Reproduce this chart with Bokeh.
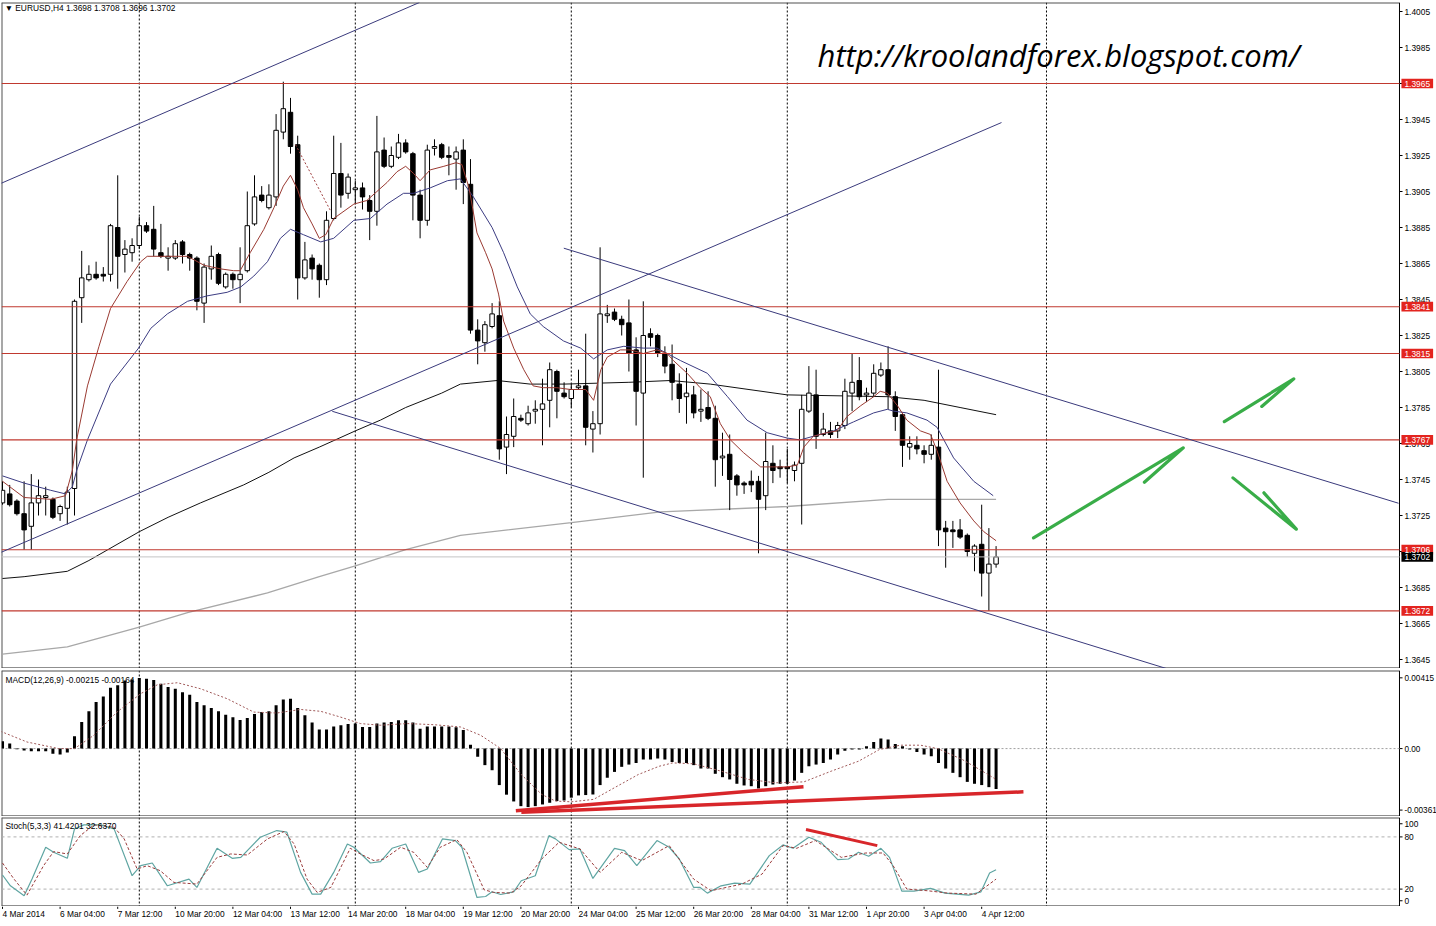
from bokeh.plotting import figure
from bokeh.layouts import column
from bokeh.models import Span, Label, Range1d, ColumnDataSource
from bokeh.embed import file_html
from bokeh.resources import INLINE
from bokeh.core.properties import value

FONT = "Liberation Sans"

# ---------------- price data (EURUSD H4, bar 0 = 4 Mar 2014 20:00) ----------------
bar_idx = list(range(139))
opens = [1.3732, 1.3737, 1.3733, 1.3726, 1.3719, 1.3732, 1.3735, 1.3734, 1.3726, 1.3729,
 1.3740, 1.3846, 1.3856, 1.3859, 1.3859, 1.3859, 1.3885, 1.3870, 1.3871, 1.3875,
 1.3886, 1.3884, 1.3871, 1.3868, 1.3868, 1.3877, 1.3870, 1.3868, 1.3843, 1.3862,
 1.3870, 1.3852, 1.3859, 1.3856, 1.3861, 1.3887, 1.3903, 1.3896, 1.3902, 1.3938,
 1.3949, 1.3931, 1.3857, 1.3868, 1.3864, 1.3856, 1.3890, 1.3915, 1.3904, 1.3906,
 1.3907, 1.3900, 1.3894, 1.3928, 1.3919, 1.3924, 1.3932, 1.3926, 1.3903, 1.3889,
 1.3929, 1.3931, 1.3925, 1.3923, 1.3928, 1.3909, 1.3828, 1.3821, 1.3830, 1.3836,
 1.3763, 1.3769, 1.3779, 1.3776, 1.3783, 1.3784, 1.3789, 1.3805, 1.3793, 1.3790,
 1.3796, 1.3797, 1.3773, 1.3776, 1.3836, 1.3838, 1.3834, 1.3832, 1.3817, 1.3793,
 1.3826, 1.3825, 1.3815, 1.3809, 1.3798, 1.3791, 1.3792, 1.3783, 1.3785, 1.3779,
 1.3757, 1.3759, 1.3747, 1.3743, 1.3744, 1.3744, 1.3736, 1.3754, 1.3752, 1.3752,
 1.3750, 1.3754, 1.3783, 1.3792, 1.3770, 1.3772, 1.3772, 1.3775, 1.3793, 1.3800,
 1.3792, 1.3793, 1.3803, 1.3806, 1.3791, 1.3781, 1.3763, 1.3764, 1.3761, 1.3759,
 1.3763, 1.3718, 1.3717, 1.3717, 1.3714, 1.3704, 1.3709, 1.3693, 1.3698]
highs = [1.3744, 1.3742, 1.3734, 1.3744, 1.3748, 1.3745, 1.3741, 1.3735, 1.3731, 1.3741,
 1.3845, 1.3872, 1.3864, 1.3866, 1.3863, 1.3887, 1.3914, 1.3878, 1.3879, 1.3891,
 1.3888, 1.3897, 1.3887, 1.3874, 1.3878, 1.3878, 1.3871, 1.3869, 1.3865, 1.3875,
 1.3871, 1.3860, 1.3860, 1.3874, 1.3905, 1.3914, 1.3908, 1.3909, 1.3948, 1.3966,
 1.3957, 1.3936, 1.3877, 1.3870, 1.3865, 1.3894, 1.3936, 1.3932, 1.3915, 1.3911,
 1.3910, 1.3903, 1.3947, 1.3935, 1.3930, 1.3937, 1.3934, 1.3927, 1.3906, 1.3931,
 1.3934, 1.3932, 1.3930, 1.3930, 1.3934, 1.3923, 1.3834, 1.3833, 1.3843, 1.3844,
 1.3780, 1.3790, 1.3781, 1.3786, 1.3789, 1.3801, 1.3810, 1.3806, 1.3799, 1.3798,
 1.3806, 1.3826, 1.3783, 1.3874, 1.3842, 1.3840, 1.3836, 1.3845, 1.3824, 1.3844,
 1.3829, 1.3826, 1.3819, 1.3820, 1.3804, 1.3807, 1.3797, 1.3795, 1.3794, 1.3786,
 1.3771, 1.3770, 1.3748, 1.3744, 1.3750, 1.3747, 1.3771, 1.3764, 1.3756, 1.3762,
 1.3755, 1.3792, 1.3808, 1.3806, 1.3782, 1.3777, 1.3777, 1.3801, 1.3815, 1.3813,
 1.3796, 1.3809, 1.3810, 1.3819, 1.3794, 1.3782, 1.3769, 1.3769, 1.3764, 1.3770,
 1.3806, 1.3722, 1.3722, 1.3723, 1.3715, 1.3709, 1.3731, 1.3718, 1.3708]
lows = [1.3731, 1.3730, 1.3725, 1.3706, 1.3706, 1.3725, 1.3725, 1.3723, 1.3722, 1.3720,
 1.3725, 1.3832, 1.3855, 1.3856, 1.3855, 1.3855, 1.3851, 1.3860, 1.3866, 1.3873,
 1.3882, 1.3869, 1.3868, 1.3861, 1.3867, 1.3865, 1.3861, 1.3839, 1.3832, 1.3856,
 1.3853, 1.3851, 1.3851, 1.3843, 1.3860, 1.3886, 1.3899, 1.3895, 1.3897, 1.3934,
 1.3926, 1.3845, 1.3856, 1.3856, 1.3846, 1.3853, 1.3889, 1.3896, 1.3901, 1.3898,
 1.3895, 1.3878, 1.3886, 1.3918, 1.3918, 1.3923, 1.3926, 1.3889, 1.3879, 1.3886,
 1.3925, 1.3923, 1.3914, 1.3906, 1.3898, 1.3826, 1.3809, 1.3816, 1.3829, 1.3756,
 1.3748, 1.3763, 1.3777, 1.3775, 1.3776, 1.3764, 1.3774, 1.3779, 1.3790, 1.3785,
 1.3795, 1.3764, 1.3760, 1.3770, 1.3832, 1.3833, 1.3825, 1.3805, 1.3775, 1.3746,
 1.3819, 1.3813, 1.3804, 1.3789, 1.3782, 1.3776, 1.3779, 1.3777, 1.3778, 1.3741,
 1.3747, 1.3728, 1.3736, 1.3737, 1.3738, 1.3704, 1.3728, 1.3743, 1.3746, 1.3743,
 1.3744, 1.3720, 1.3782, 1.3762, 1.3769, 1.3768, 1.3768, 1.3773, 1.3783, 1.3789,
 1.3788, 1.3791, 1.3802, 1.3784, 1.3772, 1.3752, 1.3756, 1.3759, 1.3754, 1.3756,
 1.3708, 1.3696, 1.3707, 1.3712, 1.3702, 1.3694, 1.3680, 1.3672, 1.3696]
closes = [1.3739, 1.3731, 1.3726, 1.3717, 1.3732, 1.3736, 1.3736, 1.3724, 1.3730, 1.3738,
 1.3844, 1.3857, 1.3859, 1.3857, 1.3858, 1.3886, 1.3869, 1.3873, 1.3875, 1.3886,
 1.3883, 1.3873, 1.3869, 1.3869, 1.3876, 1.3870, 1.3868, 1.3844, 1.3863, 1.3869,
 1.3854, 1.3859, 1.3856, 1.3859, 1.3886, 1.3902, 1.3900, 1.3903, 1.3939, 1.3951,
 1.3930, 1.3857, 1.3867, 1.3862, 1.3856, 1.3889, 1.3915, 1.3903, 1.3913, 1.3907,
 1.3902, 1.3894, 1.3927, 1.3919, 1.3925, 1.3932, 1.3927, 1.3903, 1.3889, 1.3928,
 1.3930, 1.3924, 1.3924, 1.3927, 1.3910, 1.3828, 1.3822, 1.3831, 1.3837, 1.3762,
 1.3770, 1.3780, 1.3778, 1.3782, 1.3784, 1.3787, 1.3806, 1.3794, 1.3791, 1.3795,
 1.3797, 1.3774, 1.3776, 1.3837, 1.3837, 1.3834, 1.3831, 1.3815, 1.3794, 1.3825,
 1.3824, 1.3815, 1.3808, 1.3799, 1.3790, 1.3793, 1.3782, 1.3784, 1.3779, 1.3756,
 1.3758, 1.3745, 1.3742, 1.3742, 1.3742, 1.3734, 1.3755, 1.3750, 1.3751, 1.3751,
 1.3753, 1.3784, 1.3793, 1.3769, 1.3773, 1.3770, 1.3775, 1.3794, 1.3799, 1.3791,
 1.3793, 1.3804, 1.3806, 1.3792, 1.3780, 1.3764, 1.3765, 1.3762, 1.3759, 1.3764,
 1.3717, 1.3716, 1.3716, 1.3713, 1.3705, 1.3708, 1.3693, 1.3698, 1.3702]

# moving averages (bar index, price)
ma_fast_idx = [0, 3, 6.7, 8.75, 9.7, 10.3, 11.8, 13.4, 15, 17.3, 19.2, 20.1, 22.9, 25.7, 28, 30.3, 32.1, 33, 34.4, 36.3,
 37.7, 39, 40, 41, 41.8, 43, 44, 44.9, 46, 48.8, 50.6, 52, 53.4, 54.8, 56, 57.1, 58, 59.4, 61.3, 63,
 63.8, 64.8, 65.9, 67.1, 68, 68.9, 69.6, 71, 72.4, 73.7, 75.1, 77, 78.9, 81, 82.1, 83.1, 84, 85.8, 87.2, 89,
 90.9, 92.3, 93.2, 95.1, 96.9, 98.3, 99.7, 101.1, 102.9, 105.3, 107.1, 109, 110.4, 111.3, 112.6, 114.5, 115.9, 117.3, 119.2, 121,
 121.9, 122.9, 124.3, 125.6, 127.5, 128.9, 129.8, 131.2, 133, 134.9, 136.3, 138]
ma_fast_val = [1.3744, 1.3735, 1.3734, 1.3736, 1.3750, 1.3767, 1.3797, 1.3819, 1.3840, 1.3855,
 1.3866, 1.3869, 1.3869, 1.3869, 1.3864, 1.3862, 1.3861, 1.3861, 1.3871, 1.3884,
 1.3896, 1.3908, 1.3914, 1.3906, 1.3896, 1.3887, 1.3879, 1.3881, 1.3890, 1.3898,
 1.3900, 1.3905, 1.3910, 1.3916, 1.3919, 1.3915, 1.3911, 1.3917, 1.3919, 1.3921,
 1.3920, 1.3907, 1.3882, 1.3871, 1.3862, 1.3848, 1.3833, 1.3818, 1.3806, 1.3797,
 1.3796, 1.3796, 1.3795, 1.3795, 1.3789, 1.3806, 1.3813, 1.3817, 1.3817, 1.3815,
 1.3817, 1.3815, 1.3811, 1.3804, 1.3796, 1.3791, 1.3776, 1.3767, 1.3760, 1.3752,
 1.3752, 1.3752, 1.3753, 1.3763, 1.3769, 1.3771, 1.3772, 1.3780, 1.3786, 1.3791,
 1.3794, 1.3793, 1.3786, 1.3778, 1.3772, 1.3770, 1.3761, 1.3744, 1.3732, 1.3722,
 1.3716, 1.3711]
ma_mid_idx = [0, 3, 6.7, 8.75, 9.7, 10.3, 11.8, 15, 18.9, 20.6, 22.9, 25.7, 28.4, 31.2, 33.1, 34.9, 36.8, 38.6, 40, 41.8,
 44.2, 46, 48.8, 51.1, 53.4, 55.7, 57.1, 59.4, 61.8, 63.6, 65.4, 68, 69.6, 71.5, 73.3, 75.1, 77.9, 80.3, 82.1, 84,
 86.3, 89, 90.9, 94.2, 97.9, 100.7, 103.4, 106.2, 109, 110.8, 112.6, 115.4, 118.2, 121, 122.9, 123.75, 125.6, 128.4, 129.8, 132.1,
 134.9, 137.6]
ma_mid_val = [1.3747, 1.3743, 1.3739, 1.3737, 1.3741, 1.3750, 1.3767, 1.3798, 1.3818, 1.3829,
 1.3837, 1.3844, 1.3847, 1.3849, 1.3852, 1.3858, 1.3866, 1.3879, 1.3884, 1.3881,
 1.3877, 1.3879, 1.3889, 1.3890, 1.3898, 1.3904, 1.3904, 1.3907, 1.3911, 1.3912,
 1.3902, 1.3885, 1.3871, 1.3852, 1.3837, 1.3830, 1.3822, 1.3818, 1.3812, 1.3817,
 1.3819, 1.3818, 1.3818, 1.3811, 1.3804, 1.3791, 1.3778, 1.3771, 1.3768, 1.3767,
 1.3769, 1.3772, 1.3777, 1.3782, 1.3784, 1.3783, 1.3782, 1.3778, 1.3774, 1.3757,
 1.3744, 1.3736]
ma_slow_idx = [0, 3, 9, 12, 19, 23, 27.5, 33.5, 37, 40.5, 44, 49, 52.5, 56, 61, 63.6, 68.7, 73.3, 78, 87, 92.8, 98.3, 109, 123, 128, 133, 138]
ma_slow_val = [1.3690, 1.3691, 1.3694, 1.3700, 1.3716, 1.3724, 1.3732, 1.3742, 1.3749, 1.3757, 1.3763, 1.3772, 1.3778, 1.3785,
 1.3793, 1.3798, 1.3800, 1.3798, 1.3798, 1.3799, 1.3800, 1.3798, 1.3792, 1.3791, 1.3789, 1.3785, 1.3781]
ma_long_idx = [0, 9, 19, 25.7, 36.8, 44, 49, 56, 63.6, 79, 91.4, 109, 123, 138]
ma_long_val = [1.3648, 1.3652, 1.3663, 1.3671, 1.3682, 1.3691, 1.3697, 1.3706, 1.3714, 1.3721, 1.3727, 1.3730, 1.3734, 1.3734]

# horizontal levels, current bid
levels = [1.3965, 1.3841, 1.3815, 1.3767, 1.3706, 1.3672]
bid = 1.3702

# trend lines (bar index, price) anchors
tl_x0 = [-0.28, -0.28, 77.96, 45.8]
tl_y0 = [1.39094, 1.37044, 1.38735, 1.37829]
tl_x1 = [57.9, 138.75, 193.9, 161.8]
tl_y1 = [1.4010, 1.39433, 1.37318, 1.36398]
dotted_x = [40.7, 45.6]
dotted_y = [1.3931, 1.3894]

# hand drawn green arrows: tail -> tip -> head end
arrow_xs = [[143.2, 164.0, 158.6], [169.7, 179.35, 174.9], [170.9, 179.7, 175.2]]
arrow_ys = [[1.37126, 1.37626, 1.37435], [1.37772, 1.38009, 1.37856], [1.37459, 1.37174, 1.37376]]

# week separators
separators = [19, 49, 79, 109, 145]
price_ticks = [1.4005, 1.3985, 1.3965, 1.3945, 1.3925, 1.3905, 1.3885, 1.3865, 1.3845, 1.3825,
               1.3805, 1.3785, 1.3765, 1.3745, 1.3725, 1.3705, 1.3685, 1.3665, 1.3645]
price_lo, price_hi = 1.3640, 1.4010

# ---------------- MACD(12,26,9) ----------------
macd_hist = [0.00039, 0.00027, -0.00003, -0.00010, -0.00014, -0.00014, -0.00014, -0.00027, -0.00032, -0.00021,
 0.00065, 0.00141, 0.00198, 0.00247, 0.00277, 0.00323, 0.00336, 0.00362, 0.00367, 0.00375,
 0.00371, 0.00364, 0.00345, 0.00327, 0.00318, 0.00300, 0.00286, 0.00247, 0.00230, 0.00216,
 0.00198, 0.00180, 0.00166, 0.00152, 0.00163, 0.00184, 0.00194, 0.00198, 0.00230, 0.00261,
 0.00265, 0.00216, 0.00177, 0.00138, 0.00102, 0.00102, 0.00118, 0.00124, 0.00131, 0.00133,
 0.00115, 0.00115, 0.00133, 0.00138, 0.00141, 0.00150, 0.00150, 0.00138, 0.00106, 0.00118,
 0.00118, 0.00118, 0.00118, 0.00113, 0.00099, 0.00021, -0.00044, -0.00088, -0.00115, -0.00194,
 -0.00245, -0.00281, -0.00306, -0.00311, -0.00306, -0.00297, -0.00288, -0.00279, -0.00276, -0.00261,
 -0.00249, -0.00247, -0.00244, -0.00194, -0.00155, -0.00124, -0.00097, -0.00085, -0.00076, -0.00058,
 -0.00058, -0.00053, -0.00058, -0.00071, -0.00076, -0.00076, -0.00088, -0.00106, -0.00106, -0.00134,
 -0.00152, -0.00164, -0.00187, -0.00196, -0.00200, -0.00212, -0.00200, -0.00191, -0.00187, -0.00187,
 -0.00170, -0.00129, -0.00094, -0.00085, -0.00076, -0.00058, -0.00032, -0.00011, -0.00005, -0.00005,
 0.00012, 0.00035, 0.00053, 0.00048, 0.00025, 0.00012, -0.00005, -0.00018, -0.00032, -0.00041,
 -0.00076, -0.00106, -0.00129, -0.00152, -0.00177, -0.00187, -0.00194, -0.00205, -0.00215]
macd_sig_idx = [-0.28, 3.4, 7.8, 10, 12.7, 15.9, 19.2, 21.5, 24.3, 27.5, 31.2, 34.9, 38.1, 41.4, 44.2, 46.9, 49.7, 52.5, 56.2, 59.9,
 63.6, 66.4, 69.2, 72.05, 74.9, 76.8, 79, 82.1, 85, 88.3, 91.2, 93.1, 96, 99.8, 103.6, 107.4, 111.3, 115.1, 118.9, 121.8,
 124.7, 127.5, 129.9, 133.3, 136.1, 138]
macd_sig_val = [0.00092, 0.00035, 0.0, 0.0, 0.00071, 0.00194, 0.00292, 0.00339, 0.00350, 0.00318,
 0.00265, 0.00194, 0.00189, 0.00208, 0.00198, 0.00168, 0.00133, 0.00124, 0.00133, 0.00127,
 0.00115, 0.00071, 0.0, -0.00138, -0.00244, -0.00279, -0.00283, -0.00270, -0.00208, -0.00138,
 -0.00094, -0.00076, -0.00081, -0.00120, -0.00164, -0.00182, -0.00177, -0.00120, -0.00067, -0.00005,
 0.00018, 0.00018, 0.0, -0.00058, -0.00120, -0.00164]
macd_div_x0 = [71.3, 72.06]
macd_div_y0 = [-0.00331, -0.00339]
macd_div_x1 = [111.25, 141.8]
macd_div_y1 = [-0.00203, -0.00230]
macd_max, macd_min = 0.00415, -0.00361
macd_tick_pos = [0.00376, 0.0, -0.00327]
macd_tick_lbl = ["0.00415", "0.00", "-0.00361"]

# ---------------- Stochastic(5,3,3) ----------------
stoch_k_idx = [0, 1.1, 3.0, 4.1, 6.0, 7.1, 9.0, 10.0, 11.3, 13.6, 15.5, 18.0, 19.2, 20.8, 22.9, 25.9, 27.0, 29.8, 31.9, 33.1,
 35.8, 38.1, 39.5, 41.4, 43.0, 44.2, 46.0, 47.9, 48.8, 51.1, 52.5, 54.1, 56.0, 57.8, 59.0, 61.1, 62.9, 63.8, 65.9, 67.1,
 68.0, 69.2, 71.0, 72.05, 74.0, 75.9, 76.8, 78.7, 80.2, 82.0, 85.0, 86.4, 88.1, 90.9, 92.6, 94.0, 96.0, 96.9, 97.9, 99.8,
 101.7, 103.8, 106.5, 108.4, 109.8, 112.0, 113.7, 116.0, 117.5, 118.9, 120.3, 122.0, 123.2, 124.9, 126.6, 128.9, 130.9, 134.2, 135.9, 137.1,
 138.0]
stoch_k_val = [36.2, 23.8, 12.3, 31.5, 68.1, 62.3, 55.4, 89.2, 93.8, 93.8, 89.2, 35.4, 46.9, 50.0, 23.8, 31.5, 21.9, 66.9, 55.4, 56.5,
 79.6, 87.3, 85.4, 39.2, 14.2, 14.2, 39.2, 71.9, 68.1, 50.0, 51.5, 66.9, 71.9, 39.2, 43.1, 77.7, 75.8, 68.1, 10.4, 11.5,
 16.9, 13.8, 16.9, 29.6, 35.4, 81.5, 77.7, 65.4, 66.2, 32.3, 66.9, 64.2, 46.9, 75.8, 68.1, 54.6, 21.9, 21.9, 15.4, 23.8,
 26.9, 25.8, 58.5, 70.8, 66.9, 79.6, 73.8, 53.8, 54.6, 62.3, 57.7, 66.9, 56.5, 17.7, 17.7, 20.8, 15.4, 13.1, 16.9, 38.5,
 42.3]
stoch_d_idx = [0, 1.6, 3.4, 5.7, 7.1, 9.0, 10.8, 12.7, 15.5, 16.9, 18.7, 20.1, 21.9, 23.8, 27.0, 29.8, 31.7, 34.0, 36.8, 39.1,
 40.5, 42.3, 43.7, 45.6, 48.3, 49.7, 51.6, 53.0, 55.3, 57.1, 59.0, 60.8, 63.1, 64.5, 66.9, 68.2, 70.6, 72.05, 74.9, 77.3,
 80.2, 83.0, 86.0, 88.8, 92.6, 96.0, 98.4, 102.7, 105.5, 108.4, 110.3, 112.9, 116.5, 119.9, 122.3, 123.7, 125.6, 128.5, 131.3, 135.2,
 138.0]
stoch_d_val = [50.0, 31.5, 13.1, 46.9, 63.1, 60.4, 81.5, 93.8, 91.2, 77.7, 43.1, 46.9, 41.2, 27.7, 25.8, 56.5, 60.4, 59.2, 77.7, 86.2,
 71.9, 31.5, 16.2, 21.9, 66.9, 60.4, 52.7, 54.6, 68.1, 62.3, 45.0, 68.1, 76.9, 62.3, 19.2, 16.2, 15.4, 23.8, 54.6, 73.8,
 66.2, 39.2, 62.3, 52.7, 70.0, 31.5, 18.1, 25.8, 37.3, 70.0, 66.9, 75.8, 56.5, 61.5, 61.5, 46.9, 20.0, 18.1, 15.4, 14.2,
 31.5]
stoch_div_x = [111.6, 121.5]
stoch_div_y = [88.5, 70.0]
stoch_levels = [80, 20]
stoch_tick_pos = [95.1, 80, 20, 6.6]
stoch_tick_lbl = ["100", "80", "20", "0"]

# time axis labels
time_idx = [0, 8, 16, 24, 32, 40, 48, 56, 64, 72, 80, 88, 96, 104, 112, 120, 128, 136]
time_lbl = ["4 Mar 2014", "6 Mar 04:00", "7 Mar 12:00", "10 Mar 20:00", "12 Mar 04:00", "13 Mar 12:00",
            "14 Mar 20:00", "18 Mar 04:00", "19 Mar 12:00", "20 Mar 20:00", "24 Mar 04:00", "25 Mar 12:00",
            "26 Mar 20:00", "28 Mar 04:00", "31 Mar 12:00", "1 Apr 20:00", "3 Apr 04:00", "4 Apr 12:00"]

# ---------------- layout helpers ----------------
X0, X1 = -0.14, 199.17          # full canvas width (1435 px frame, 7.2 px per bar)
AX = 194.03                      # price-scale border
TICK_END = AX + 0.42
LBL_X = 194.72
BOX_L, BOX_R = 194.3, 198.7
xr = Range1d(X0, X1)
common = dict(frame_width=1435, x_range=xr, output_backend="svg", toolbar_location=None,
              min_border_left=1, min_border_right=0, x_axis_location=None, y_axis_location=None,
              background_fill_color="white", border_fill_color="white", outline_line_color=None)


def pane(frame_height, lo, hi, top_border):
    p = figure(frame_height=frame_height, y_range=Range1d(lo, hi), min_border_top=top_border,
               min_border_bottom=0, **common)
    p.grid.grid_line_color = None
    for s in separators:
        p.add_layout(Span(location=s, dimension="height", line_color="black",
                          line_dash="2 2", line_width=1, level="underlay"))
    # pane border and price-scale line
    p.segment(x0=[X0, X0, X0, AX], y0=[hi, lo, lo, lo], x1=[AX, AX, X0, AX], y1=[hi, lo, hi, hi],
              line_color=["#505050", "#202020", "#505050", "black"], line_width=[2, 2, 2, 1])
    return p


def scale_labels(p, pos, labels, size="8.4px"):
    n = len(pos)
    p.segment(x0=[AX] * n, y0=pos, x1=[TICK_END] * n, y1=pos, line_color="black", line_width=1)
    p.text(x=[LBL_X] * n, y=pos, text=labels, text_font=value(FONT), text_font_size=size,
           text_align="left", text_baseline="middle", text_color="black")


# ---------------- main price pane ----------------
p1 = pane(666, price_lo, price_hi, 2)
scale_labels(p1, price_ticks, [f"{t:.4f}" for t in price_ticks])

src = ColumnDataSource(dict(
    x=bar_idx, h=highs, l=lows,
    top=[max(o, c) for o, c in zip(opens, closes)],
    bot=[min(o, c) for o, c in zip(opens, closes)],
    fill=["white" if c >= o else "black" for o, c in zip(opens, closes)]))

p1.line(ma_long_idx, ma_long_val, line_color="#a8a8a8", line_width=1.3)
p1.line(ma_slow_idx, ma_slow_val, line_color="#111111", line_width=1)
p1.segment(x0="x", y0="l", x1="x", y1="h", source=src, line_color="black", line_width=1)
p1.vbar(x="x", top="top", bottom="bot", width=0.62, fill_color="fill", line_color="black",
        line_width=1, source=src)
p1.line(ma_mid_idx, ma_mid_val, line_color="#3c3c82", line_width=1)
p1.line(ma_fast_idx, ma_fast_val, line_color="#9a3a32", line_width=1)
p1.line(dotted_x, dotted_y, line_color="#a04040", line_dash="2 2", line_width=1)

nl = len(levels)
p1.segment(x0=[X0] * nl, y0=levels, x1=[AX] * nl, y1=levels, line_color="#c0392f", line_width=1.1)
p1.segment(x0=[X0], y0=[bid], x1=[AX], y1=[bid], line_color="#c4c4c4", line_width=1)

p1.segment(x0=tl_x0, y0=tl_y0, x1=tl_x1, y1=tl_y1, line_color="#3a3a7c", line_width=1)
p1.multi_line(xs=arrow_xs, ys=arrow_ys, line_color="#39ad48", line_width=3.2, line_cap="round",
              line_join="round")

# price-scale tags for the levels and the bid
half_box = 0.00027
tag_prices = levels + [bid]
tag_colors = ["#e3241f"] * nl + ["black"]
p1.quad(left=[BOX_L] * len(tag_prices), right=[BOX_R] * len(tag_prices),
        bottom=[t - half_box for t in tag_prices], top=[t + half_box for t in tag_prices],
        fill_color=tag_colors, line_color=None)
p1.text(x=[LBL_X] * len(tag_prices), y=tag_prices, text=[f"{t:.4f}" for t in tag_prices],
        text_font=value(FONT), text_font_size="8.4px", text_align="left", text_baseline="middle",
        text_color="white")

p1.add_layout(Label(x=0.3, y=1.40067, text="\u25BC EURUSD,H4  1.3698 1.3708 1.3696 1.3702",
                    text_font=FONT, text_font_size="8.4px", text_color="black", text_baseline="middle"))
p1.add_layout(Label(x=113.2, y=1.39806, text="http://kroolandforex.blogspot.com/",
                    text_font="Open Sans", text_font_style="italic", text_font_size="31px",
                    text_color="black", text_baseline="middle"))

# ---------------- MACD pane ----------------
p2 = pane(146, macd_min, macd_max, 2)
scale_labels(p2, macd_tick_pos, macd_tick_lbl, size="8.2px")
p2.segment(x0=[X0], y0=[0], x1=[AX], y1=[0], line_color="#a0a0a0", line_dash="2 2", line_width=1)
p2.vbar(x=bar_idx, top=macd_hist, bottom=0, width=0.42, fill_color="black", line_color=None)
p2.line(macd_sig_idx, macd_sig_val, line_color="#a05a5a", line_dash="2 2", line_width=1)
p2.segment(x0=macd_div_x0, y0=macd_div_y0, x1=macd_div_x1, y1=macd_div_y1,
           line_color="#d8262a", line_width=3.5)
p2.add_layout(Label(x=0.42, y=0.00367, text="MACD(12,26,9) -0.00215 -0.00164", text_font=FONT,
                    text_font_size="8.4px", text_color="black", text_baseline="middle"))

# ---------------- Stochastic pane ----------------
p3 = pane(89, 0, 102.3, 1)
scale_labels(p3, stoch_tick_pos, stoch_tick_lbl)
ns = len(stoch_levels)
p3.segment(x0=[X0] * ns, y0=stoch_levels, x1=[AX] * ns, y1=stoch_levels, line_color="#b0b0b0",
           line_dash="3 3", line_width=1)
p3.line(stoch_k_idx, stoch_k_val, line_color="#5fa5a2", line_width=1.2)
p3.line(stoch_d_idx, stoch_d_val, line_color="#9a3c3c", line_dash="3 2", line_width=1)
p3.line(stoch_div_x, stoch_div_y, line_color="#d8262a", line_width=3)
p3.add_layout(Label(x=0.42, y=92, text="Stoch(5,3,3) 41.4201 32.6370", text_font=FONT,
                    text_font_size="8.4px", text_color="black", text_baseline="middle"))

# ---------------- time labels strip ----------------
p4 = figure(frame_height=20, y_range=Range1d(0, 1), min_border_top=0, min_border_bottom=0, **common)
p4.grid.grid_line_color = None
p4.text(x=time_idx, y=[0.62] * len(time_idx), text=time_lbl, text_font=value(FONT),
        text_font_size="8.4px", text_align="left", text_baseline="middle", text_color="black")
p4.segment(x0=time_idx, y0=[1.0] * len(time_idx), x1=time_idx, y1=[0.88] * len(time_idx),
           line_color="black", line_width=1)

layout = column(p1, p2, p3, p4, spacing=0)
html = file_html(layout, INLINE, title="EURUSD H4")
html = html.replace("<body>", '<body style="margin:0;">', 1)
open("out.html", "w").write(html)
